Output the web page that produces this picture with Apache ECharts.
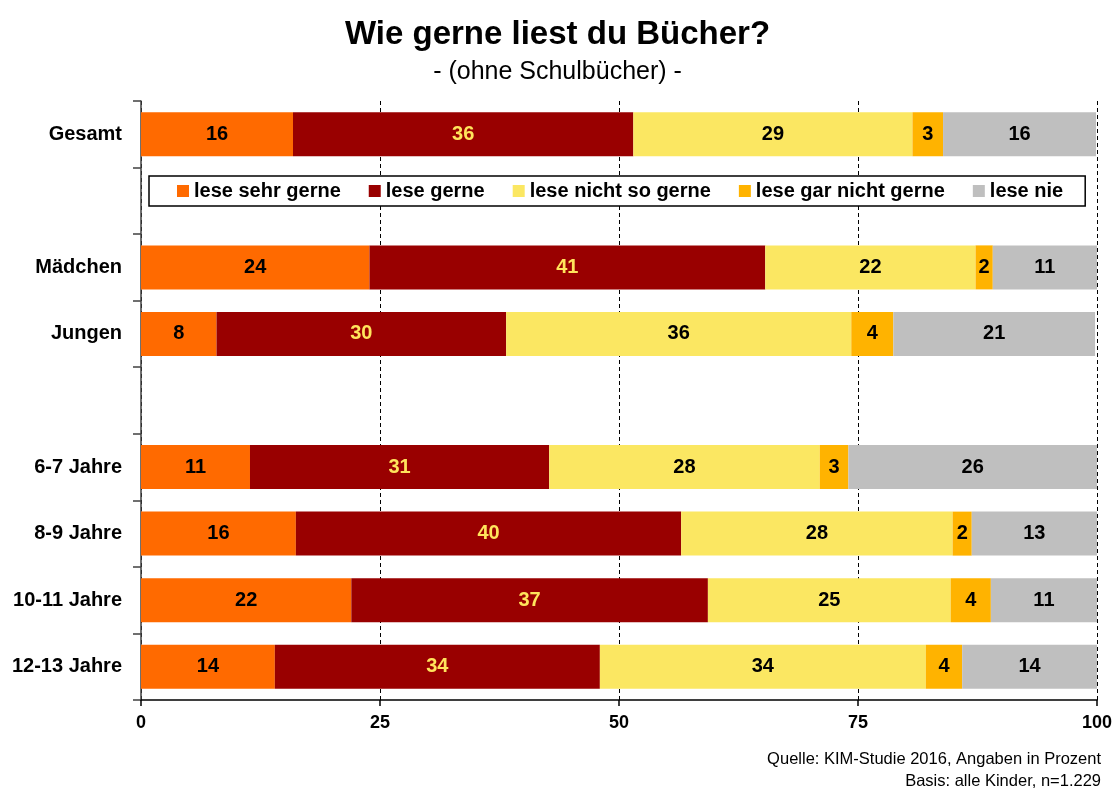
<!DOCTYPE html>
<html>
<head>
<meta charset="utf-8">
<script src="https://cdn.jsdelivr.net/npm/echarts@6/dist/echarts.min.js"></script>
<style>
  html, body { margin: 0; padding: 0; background: #fff; }
  #chart { width: 1115px; height: 789px; }
</style>
</head>
<body>
<div id="chart"></div>
<script>
// rows top to bottom; the blank rows are spacers (legend sits in the first one)
const categories = ['Gesamt', '', 'Mädchen', 'Jungen', ' ', '6-7 Jahre', '8-9 Jahre', '10-11 Jahre', '12-13 Jahre']
const seriesNames = ['lese sehr gerne', 'lese gerne', 'lese nicht so gerne', 'lese gar nicht gerne', 'lese nie']

// Angaben in Prozent (labels are rounded)
const seriesSehrGerne = [15.9, null, 23.9, 7.9, null, 11.4, 16.2, 22.0, 14.0]
const seriesGerne = [35.6, null, 41.4, 30.3, null, 31.3, 40.3, 37.3, 34.0]
const seriesNichtSoGerne = [29.2, null, 22.0, 36.1, null, 28.3, 28.4, 25.4, 34.1]
const seriesGarNichtGerne = [3.2, null, 1.8, 4.4, null, 3.0, 2.0, 4.2, 3.8]
const seriesNie = [16.0, null, 10.9, 21.1, null, 26.0, 13.1, 11.1, 14.1]

const xTicks = [0, 25, 50, 75, 100]
const footnotes = ['Quelle: KIM-Studie 2016, Angaben in Prozent', 'Basis: alle Kinder, n=1.229']

const colors = ['#ff6a00', '#990000', '#fbe762', '#ffb300', '#bfbfbf']
const labelColors = ['#000', '#ffe45c', '#000', '#000', '#000']
const font = '"Liberation Sans", Arial, sans-serif'

const chart = echarts.init(document.getElementById('chart'))

const values = [seriesSehrGerne, seriesGerne, seriesNichtSoGerne, seriesGarNichtGerne, seriesNie]

const series = values.map((data, i) => ({
  name: seriesNames[i],
  type: 'bar',
  stack: 'total',
  data: data,
  barWidth: 44,
  itemStyle: { color: colors[i] },
  label: {
    show: true,
    position: 'inside',
    color: labelColors[i],
    fontFamily: font,
    fontWeight: 'bold',
    fontSize: 20,
    formatter: (p) => (p.value == null ? '' : Math.round(p.value)),
  },
}))

chart.setOption({
  animation: false,
  textStyle: { fontFamily: font },
  title: [
    {
      text: 'Wie gerne liest du Bücher?',
      left: 'center',
      top: 13,
      textStyle: { fontSize: 33, fontWeight: 'bold', color: '#000', fontFamily: font },
    },
    {
      text: '- (ohne Schulbücher) -',
      left: 'center',
      top: 55,
      textStyle: { fontSize: 25, fontWeight: 'normal', color: '#000', fontFamily: font },
    },
  ],
  graphic: footnotes.map((t, i) => ({
    type: 'text',
    right: 14,
    top: 751 + i * 22,
    style: { text: t, fontSize: 16.5, fontFamily: font, fill: '#000' },
  })),
  legend: {
    data: seriesNames,
    left: 149,
    top: 176,
    orient: 'horizontal',
    backgroundColor: '#fff',
    borderColor: '#000',
    borderWidth: 1.5,
    borderRadius: 0,
    padding: [5, 22, 5, 28],
    itemGap: 28,
    itemWidth: 12,
    itemHeight: 12,
    icon: 'rect',
    selectedMode: false,
    textStyle: { fontSize: 20, fontWeight: 'bold', color: '#000', fontFamily: font },
  },
  grid: {
    left: 141,
    right: 18,
    top: 101,
    bottom: 89,
    containLabel: false,
  },
  xAxis: {
    type: 'value',
    min: 0,
    max: 100,
    interval: 25,
    axisLine: { show: true, lineStyle: { color: '#000', width: 1.5 } },
    axisTick: { show: true, length: 6, lineStyle: { color: '#000', width: 1.5 } },
    axisLabel: {
      margin: 14,
      color: '#000',
      fontSize: 18,
      fontWeight: 'bold',
      fontFamily: font,
      formatter: (v) => (xTicks.includes(v) ? String(v) : ''),
    },
    splitLine: { show: true, lineStyle: { color: '#000', type: [4, 3], width: 1 } },
  },
  yAxis: {
    type: 'category',
    data: categories,
    inverse: true,
    axisLine: { show: true, lineStyle: { color: '#404040', width: 1.5 } },
    axisTick: { show: true, length: 8, lineStyle: { color: '#404040', width: 1.5 } },
    axisLabel: {
      margin: 19,
      color: '#000',
      fontSize: 20,
      fontWeight: 'bold',
      fontFamily: font,
    },
  },
  series: series,
})
</script>
</body>
</html>
